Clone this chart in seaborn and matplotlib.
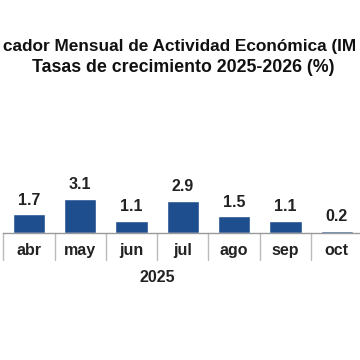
import seaborn as sns
import matplotlib.pyplot as plt
import pandas as pd

months = ["abr", "may", "jun", "jul", "ago", "sep", "oct"]
growth = [1.7, 3.1, 1.1, 2.9, 1.5, 1.1, 0.2]
year_label = "2025"
# the reference is cropped: only this part of the first title line shows
title_1 = "cador Mensual de Actividad Económica (IM"
title_2 = "Tasas de crecimiento 2025-2026 (%)"

df = pd.DataFrame({"mes": months, "tasa": growth})

sns.set_theme(style="white")
plt.rcParams["font.family"] = ["Liberation Sans", "DejaVu Sans"]

fig = plt.figure(figsize=(3.6, 3.6), dpi=100)
# plot area runs from the baseline up; categories ~51 px wide
ax = fig.add_axes([3.3 / 360, (360 - 232.7) / 360, 359 / 360, 0.32])
sns.barplot(data=df, x="mes", y="tasa", color="#1F4E8F", width=0.63,
            saturation=1, ax=ax)
ax.set_ylim(0, 10.55)
ax.set_xlim(-0.5, len(months) - 0.5)

for i, v in enumerate(growth):
    ax.text(i, v + 0.6, f"{v:.1f}", ha="center", va="bottom",
            fontsize=11.5, fontweight="bold", color="#222222")

for s in ["top", "left", "right"]:
    ax.spines[s].set_visible(False)
ax.spines["bottom"].set_color("#999999")
ax.spines["bottom"].set_linewidth(1)
ax.set_yticks([])
ax.set_xticks([])
ax.set_xlabel("")
ax.set_ylabel("")

# category dividers below the baseline
for i in range(len(months)):
    ax.plot([i - 0.5, i - 0.5], [0, -2.5], color="#bbbbbb", lw=1,
            clip_on=False)
for i, m in enumerate(months):
    ax.text(i, -1.65, m, ha="center", va="center", fontsize=11.5,
            fontweight="bold", color="#222222")
ax.text(2.5, -4.1, year_label, ha="center", va="center", fontsize=11.5,
        fontweight="bold", color="#222222")

fig.text(0.5, 1 - 46 / 360, title_1, ha="center", va="center",
         fontsize=12.4, fontweight="bold", color="#111111")
fig.text(0.508, 1 - 68 / 360, title_2, ha="center", va="center",
         fontsize=12.8, fontweight="bold", color="#111111")

fig.savefig("out.png", dpi=100)
plt.close(fig)
